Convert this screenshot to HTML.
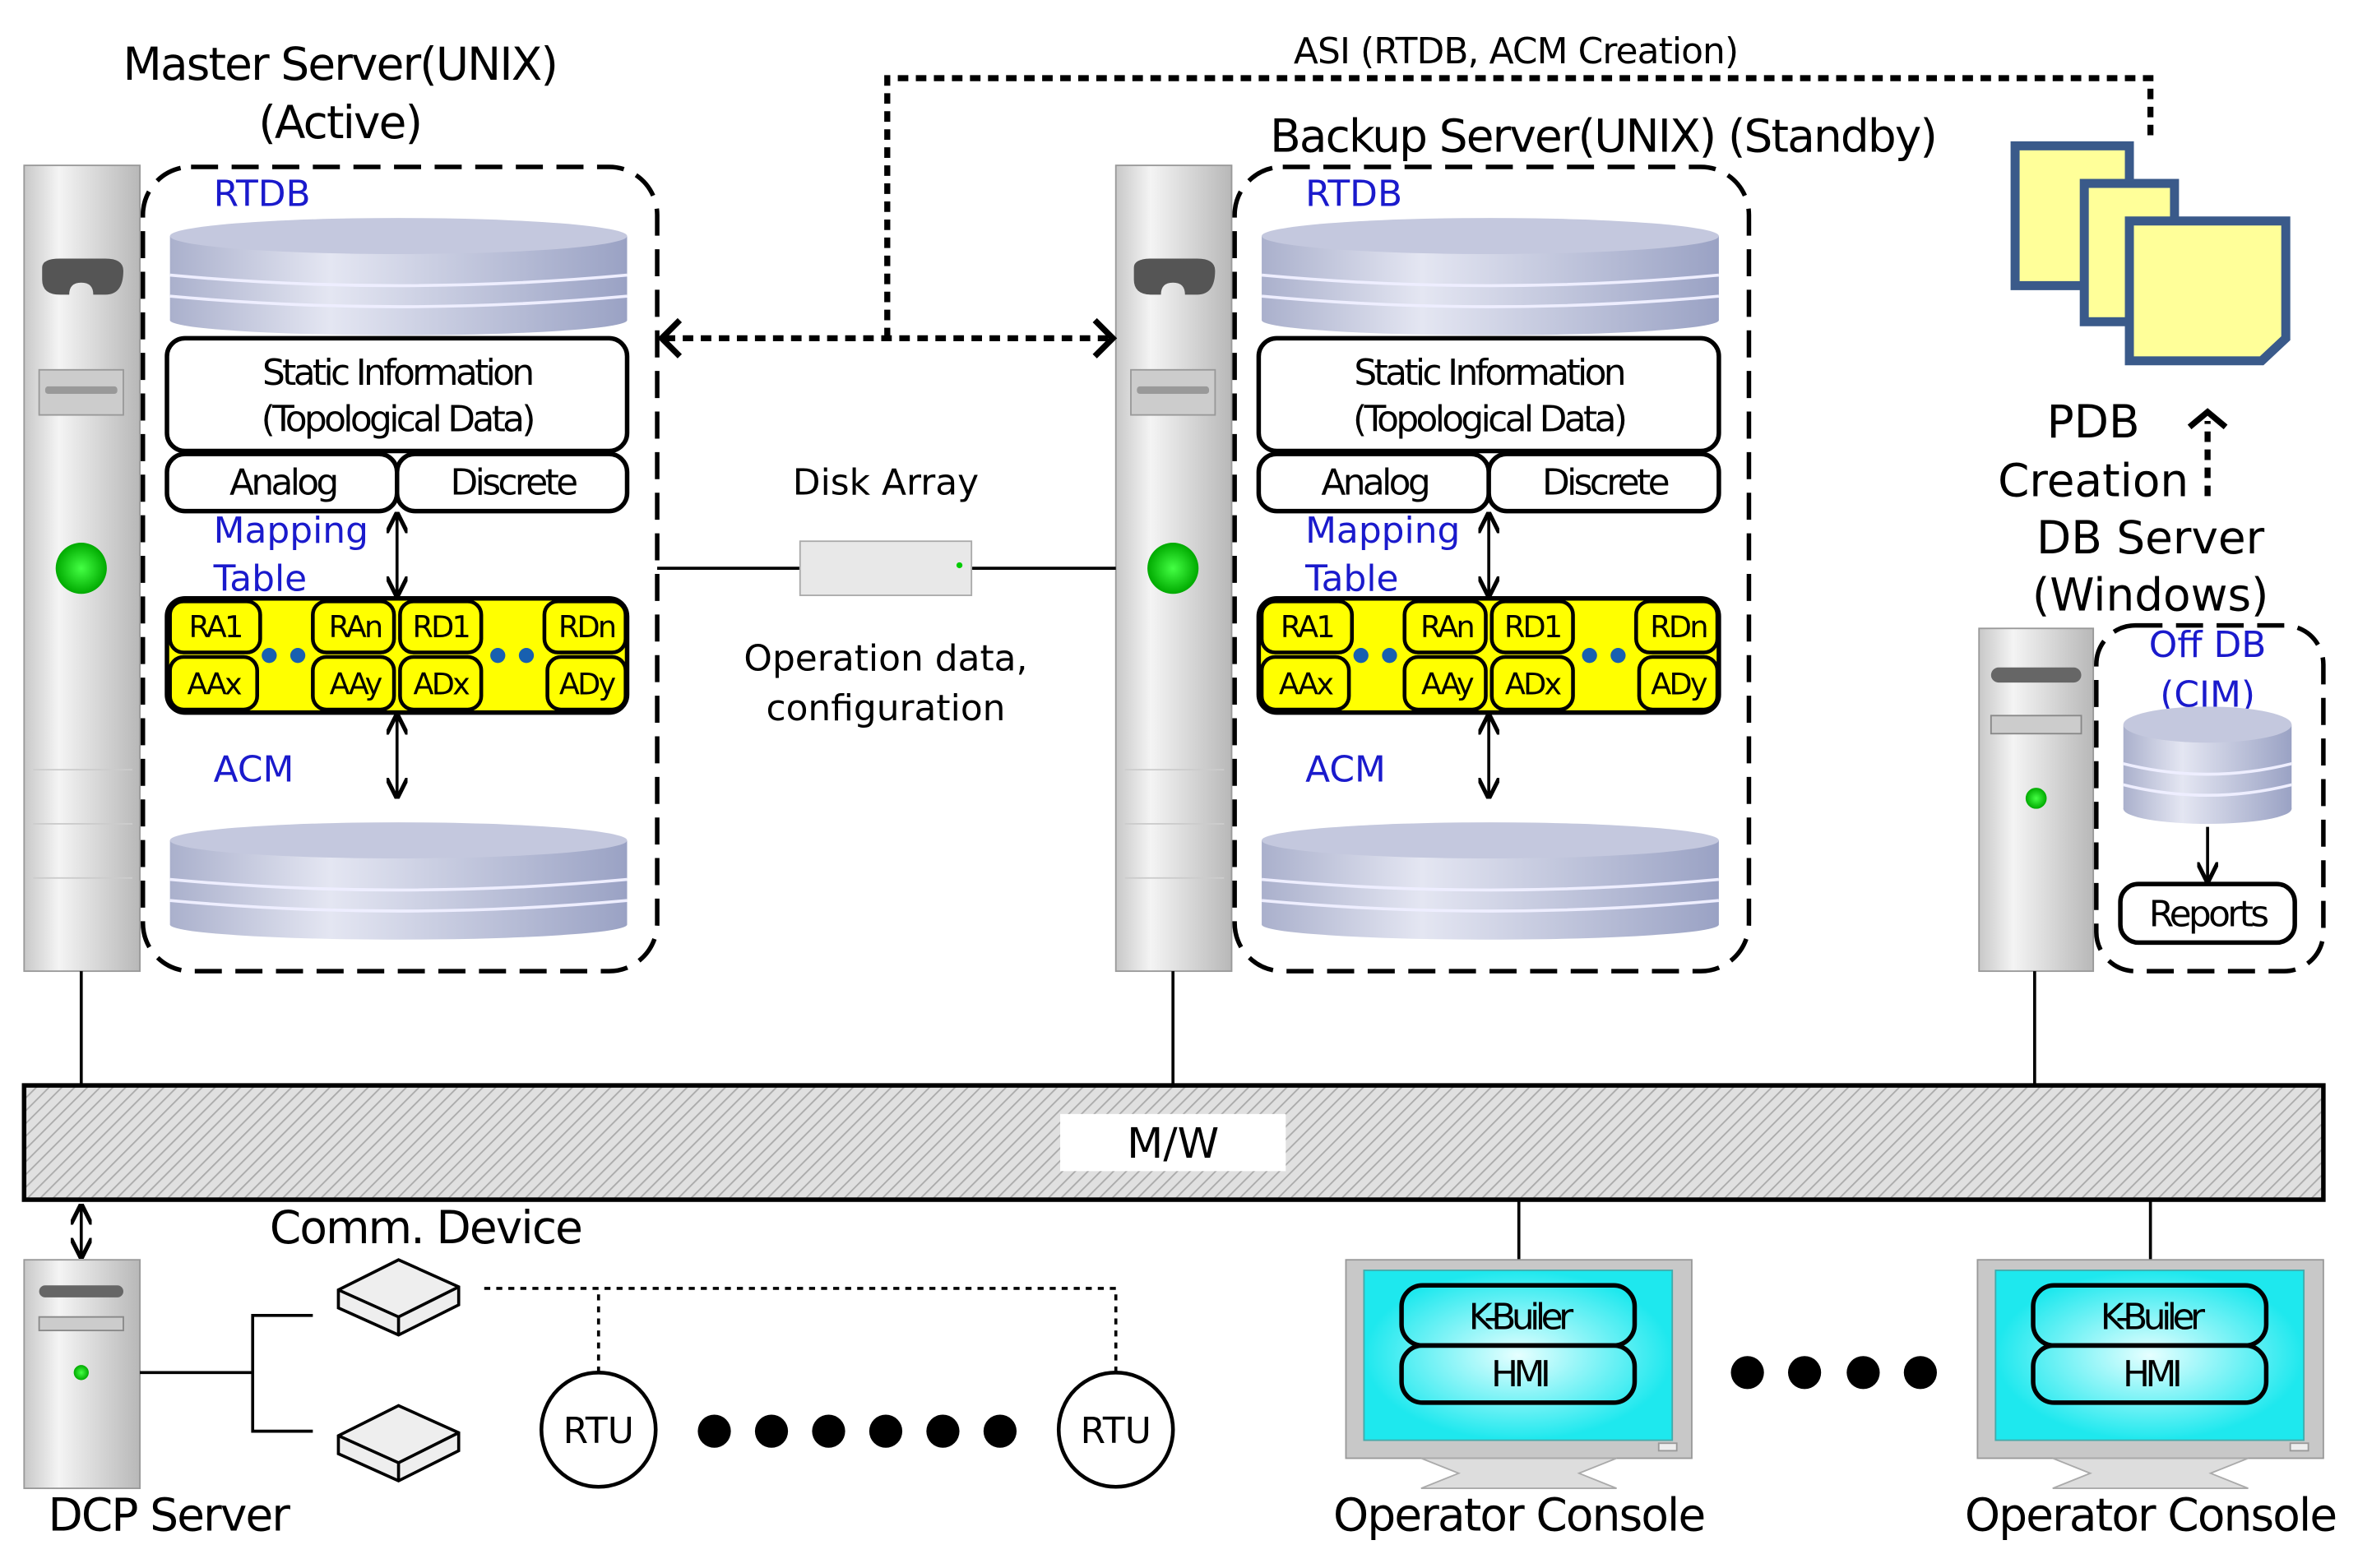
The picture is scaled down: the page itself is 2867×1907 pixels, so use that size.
<!DOCTYPE html>
<html><head><meta charset="utf-8"><style>html,body{margin:0;padding:0;background:#fff}svg{display:block}text{font-family:"DejaVu Sans","Liberation Sans",sans-serif}</style></head>
<body>
<svg width="2867" height="1907" viewBox="0 0 1568 1043" xmlns="http://www.w3.org/2000/svg">
<defs>
<linearGradient id="tower" x1="0" x2="1"><stop offset="0" stop-color="#c8c8c8"/><stop offset="0.3" stop-color="#f4f4f4"/><stop offset="1" stop-color="#b8b8b8"/></linearGradient>
<linearGradient id="disk" x1="0" x2="1"><stop offset="0" stop-color="#aab0cc"/><stop offset="0.35" stop-color="#e4e6f2"/><stop offset="1" stop-color="#9aa2c4"/></linearGradient>
<radialGradient id="led"><stop offset="0" stop-color="#4f4"/><stop offset="1" stop-color="#0a0"/></radialGradient>
<radialGradient id="scr"><stop offset="0" stop-color="#e6ffff"/><stop offset="1" stop-color="#1ee8ee"/></radialGradient>
<pattern id="hatch" width="6" height="6" patternUnits="userSpaceOnUse" patternTransform="rotate(45)"><rect width="6" height="6" fill="#e0e0e0"/><line x1="0" y1="0" x2="0" y2="6" stroke="#aaa" stroke-width="2"/></pattern>
<marker id="ah" viewBox="0 0 10 10" refX="9" refY="5" markerWidth="7" markerHeight="7" orient="auto-start-reverse"><path d="M0,0 L10,5 L0,10" fill="none" stroke="#000" stroke-width="2"/></marker>
<g id="disk1">
<rect x="0" y="12" width="304" height="56" fill="url(#disk)"/>
<ellipse cx="152" cy="68" rx="152" ry="10" fill="url(#disk)"/>
<ellipse cx="152" cy="12" rx="152" ry="12" fill="#c4c8de"/>
<path d="M0,38 Q152,52 304,38 M0,52 Q152,66 304,52" stroke="#eef" stroke-width="2" fill="none"/>
</g>
<g id="srv">
<rect x="16" y="110" width="77" height="536" fill="url(#tower)" stroke="#999"/>
<path d="M28,178 Q28,172 40,172 L70,172 Q82,172 82,180 Q82,196 70,196 L62,196 Q62,188 54,188 Q46,188 46,196 L40,196 Q28,196 28,186Z" fill="#555"/>
<rect x="26" y="246" width="56" height="30" fill="#ccc" stroke="#999"/>
<rect x="30" y="257" width="48" height="5" rx="2" fill="#999"/>
<circle cx="54" cy="378" r="17" fill="url(#led)"/>
<line x1="22" y1="512" x2="88" y2="512" stroke="#ccc"/><line x1="22" y1="548" x2="88" y2="548" stroke="#ccc"/><line x1="22" y1="584" x2="88" y2="584" stroke="#ccc"/>
<rect x="95" y="111" width="342" height="535" rx="32" fill="none" stroke="#000" stroke-width="3" stroke-dasharray="18,9"/>
<text x="142" y="137" font-size="24" fill="#1a1acc">RTDB</text>
<use href="#disk1" x="113" y="145"/>
<rect x="111" y="225" width="306" height="75" rx="12" fill="#fff" stroke="#000" stroke-width="3"/>
<text x="264" y="256" font-size="24" text-anchor="middle" letter-spacing="-2">Static Information</text>
<text x="264" y="287" font-size="24" text-anchor="middle" letter-spacing="-2">(Topological Data)</text>
<rect x="111" y="302" width="153" height="38" rx="12" fill="#fff" stroke="#000" stroke-width="3"/>
<rect x="264" y="302" width="153" height="38" rx="12" fill="#fff" stroke="#000" stroke-width="3"/>
<text x="188" y="329" font-size="24" text-anchor="middle" letter-spacing="-2">Analog</text>
<text x="341" y="329" font-size="24" text-anchor="middle" letter-spacing="-2">Discrete</text>
<text x="142" y="361" font-size="24" fill="#1a1acc">Mapping</text>
<text x="142" y="393" font-size="24" fill="#1a1acc">Table</text>
<line x1="264" y1="342" x2="264" y2="396" stroke="#000" stroke-width="2" marker-start="url(#ah)" marker-end="url(#ah)"/>
<rect x="111" y="398" width="306" height="76" rx="12" fill="#ff0" stroke="#000" stroke-width="3"/>
<g fill="#ff0" stroke="#000" stroke-width="2.5">
<rect x="113" y="400" width="60" height="34" rx="9"/><rect x="208" y="400" width="54" height="34" rx="9"/><rect x="266" y="400" width="54" height="34" rx="9"/><rect x="362" y="400" width="54" height="34" rx="9"/>
<rect x="113" y="437" width="58" height="35" rx="9"/><rect x="208" y="437" width="54" height="35" rx="9"/><rect x="266" y="437" width="54" height="35" rx="9"/><rect x="364" y="437" width="52" height="35" rx="9"/>
</g>
<g font-size="20" text-anchor="middle" letter-spacing="-1.5">
<text x="143" y="424">RA1</text><text x="236" y="424">RAn</text><text x="293" y="424">RD1</text><text x="390" y="424">RDn</text>
<text x="142" y="462">AAx</text><text x="236" y="462">AAy</text><text x="293" y="462">ADx</text><text x="390" y="462">ADy</text>
</g>
<g fill="#1860b0"><circle cx="179" cy="436" r="5"/><circle cx="198" cy="436" r="5"/><circle cx="331" cy="436" r="5"/><circle cx="350" cy="436" r="5"/></g>
<text x="142" y="520" font-size="24" fill="#1a1acc">ACM</text>
<line x1="264" y1="476" x2="264" y2="530" stroke="#000" stroke-width="2" marker-start="url(#ah)" marker-end="url(#ah)"/>
<use href="#disk1" x="113" y="545" transform="translate(0,2)"/>
</g>
<g id="mon">
<rect x="895" y="838" width="230" height="132" fill="#c8c8c8" stroke="#999"/>
<rect x="907" y="845" width="205" height="113" fill="url(#scr)" stroke="#4aa"/>
<rect x="1103" y="960" width="12" height="5" fill="#eee" stroke="#999"/>
<path d="M945,970 L1075,970 L1050,980 L1075,990 L945,990 L970,980Z" fill="#ddd" stroke="#aaa"/>
<rect x="932" y="855" width="155" height="40" rx="14" fill="none" stroke="#000" stroke-width="3"/>
<rect x="932" y="895" width="155" height="38" rx="14" fill="none" stroke="#000" stroke-width="3"/>
<text x="1010" y="884" font-size="24" text-anchor="middle" letter-spacing="-3">K-Builer</text>
<text x="1010" y="922" font-size="24" text-anchor="middle" letter-spacing="-3">HMI</text>
<text x="1010" y="1018" font-size="30" text-anchor="middle" letter-spacing="-1">Operator Console</text>
</g>
<g id="dev">
<path d="M0,20 L40,0 L80,18 L80,30 L40,50 L0,32Z" fill="#eee" stroke="#000" stroke-width="2"/>
<path d="M0,20 L40,38 L80,18 M40,38 L40,50" fill="none" stroke="#000" stroke-width="2"/>
</g>
</defs>

<use href="#srv"/>
<use href="#srv" x="726"/>

<text x="226" y="53" font-size="30" text-anchor="middle" letter-spacing="-1">Master Server(UNIX)</text>
<text x="226" y="92" font-size="30" text-anchor="middle" letter-spacing="-1">(Active)</text>
<text x="1066" y="101" font-size="30" text-anchor="middle" letter-spacing="-1">Backup Server(UNIX) (Standby)</text>
<text x="1008" y="42" font-size="24" text-anchor="middle" letter-spacing="-0.5">ASI (RTDB, ACM Creation)</text>

<g stroke="#000" stroke-width="4" stroke-dasharray="7,5" fill="none">
<line x1="442" y1="225" x2="738" y2="225"/>
<polyline points="590,225 590,52 1430,52 1430,95"/>
<line x1="1468" y1="330" x2="1468" y2="280"/>
</g>
<path d="M452,213 L440,225 L452,237 M728,213 L740,225 L728,237 M1456,284 L1468,274 L1480,284" fill="none" stroke="#000" stroke-width="4"/>

<line x1="437" y1="378" x2="742" y2="378" stroke="#000" stroke-width="2"/>
<rect x="532" y="360" width="114" height="36" fill="#e8e8e8" stroke="#aaa"/>
<circle cx="638" cy="376" r="2" fill="#0c0"/>
<text x="589" y="329" font-size="24" text-anchor="middle">Disk Array</text>
<text x="589" y="446" font-size="24" text-anchor="middle">Operation data,</text>
<text x="589" y="479" font-size="24" text-anchor="middle">configuration</text>

<g fill="#ffff99" stroke="#3a5a8a" stroke-width="6">
<rect x="1340" y="97" width="76" height="93"/>
<rect x="1386" y="122" width="60" height="92"/>
<path d="M1416,147 L1520,147 L1520,225 L1504,240 L1416,240Z"/>
</g>
<text x="1392" y="291" font-size="30" text-anchor="middle">PDB</text>
<text x="1392" y="330" font-size="30" text-anchor="middle">Creation</text>
<text x="1430" y="368" font-size="30" text-anchor="middle">DB Server</text>
<text x="1430" y="406" font-size="30" text-anchor="middle">(Windows)</text>

<rect x="1316" y="418" width="76" height="228" fill="url(#tower)" stroke="#999"/>
<rect x="1324" y="444" width="60" height="10" rx="5" fill="#666"/>
<rect x="1324" y="476" width="60" height="12" fill="#ccc" stroke="#888"/>
<circle cx="1354" cy="531" r="7" fill="url(#led)"/>
<rect x="1394" y="416" width="151" height="230" rx="26" fill="none" stroke="#000" stroke-width="3" stroke-dasharray="18,9"/>
<text x="1468" y="437" font-size="24" fill="#1a1acc" text-anchor="middle">Off DB</text>
<text x="1468" y="470" font-size="24" fill="#1a1acc" text-anchor="middle">(CIM)</text>
<use href="#disk1" transform="translate(1412,470) scale(0.368,1)"/>
<line x1="1468" y1="550" x2="1468" y2="586" stroke="#000" stroke-width="2" marker-end="url(#ah)"/>
<rect x="1410" y="588" width="116" height="39" rx="12" fill="#fff" stroke="#000" stroke-width="3"/>
<text x="1468" y="616" font-size="24" text-anchor="middle" letter-spacing="-2">Reports</text>

<g stroke="#000" stroke-width="2">
<line x1="54" y1="646" x2="54" y2="722"/><line x1="780" y1="646" x2="780" y2="722"/><line x1="1353" y1="646" x2="1353" y2="722"/>
<line x1="1010" y1="798" x2="1010" y2="838"/><line x1="1430" y1="798" x2="1430" y2="838"/>
</g>
<rect x="16" y="722" width="1529" height="76" fill="url(#hatch)" stroke="#000" stroke-width="3"/>
<rect x="705" y="741" width="150" height="38" fill="#fff"/>
<text x="780" y="770" font-size="28" text-anchor="middle">M/W</text>

<line x1="54" y1="802" x2="54" y2="836" stroke="#000" stroke-width="2" marker-start="url(#ah)" marker-end="url(#ah)"/>
<rect x="16" y="838" width="77" height="152" fill="url(#tower)" stroke="#999"/>
<rect x="26" y="855" width="56" height="8" rx="4" fill="#666"/>
<rect x="26" y="876" width="56" height="9" fill="#ccc" stroke="#888"/>
<circle cx="54" cy="913" r="5" fill="url(#led)"/>
<text x="112" y="1018" font-size="30" text-anchor="middle" letter-spacing="-1">DCP Server</text>
<polyline points="93,913 168,913" stroke="#000" stroke-width="2"/>
<polyline points="208,875 168,875 168,952 208,952" fill="none" stroke="#000" stroke-width="2"/>
<use href="#dev" x="225" y="838"/>
<use href="#dev" x="225" y="935"/>
<text x="283" y="827" font-size="30" text-anchor="middle" letter-spacing="-1">Comm. Device</text>
<polyline points="398,913 398,857 320,857 742,857 742,913" fill="none" stroke="#000" stroke-width="2" stroke-dasharray="4,4"/>
<circle cx="398" cy="951" r="38" fill="#fff" stroke="#000" stroke-width="2.5"/>
<circle cx="742" cy="951" r="38" fill="#fff" stroke="#000" stroke-width="2.5"/>
<text x="398" y="960" font-size="24" text-anchor="middle">RTU</text>
<text x="742" y="960" font-size="24" text-anchor="middle">RTU</text>
<g fill="#000"><circle cx="475" cy="952" r="11"/><circle cx="513" cy="952" r="11"/><circle cx="551" cy="952" r="11"/><circle cx="589" cy="952" r="11"/><circle cx="627" cy="952" r="11"/><circle cx="665" cy="952" r="11"/>
<circle cx="1162" cy="913" r="11"/><circle cx="1200" cy="913" r="11"/><circle cx="1239" cy="913" r="11"/><circle cx="1277" cy="913" r="11"/></g>

<use href="#mon"/>
<use href="#mon" x="420"/>
</svg>
</body></html>
